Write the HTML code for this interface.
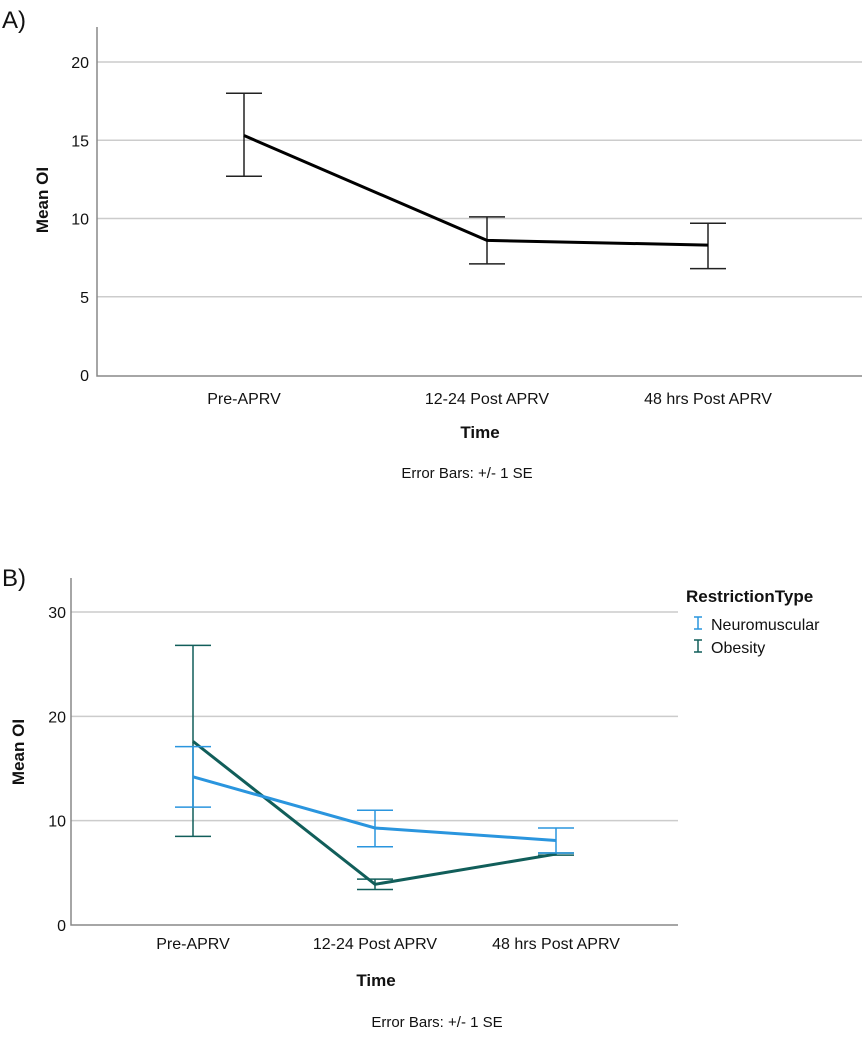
<!DOCTYPE html>
<html><head><meta charset="utf-8"><style>
body{margin:0;background:#fff;width:863px;height:1032px;overflow:hidden}
svg{font-family:"Liberation Sans",Arial,sans-serif}
</style></head><body>
<svg id="chart" width="863" height="1032" viewBox="0 0 863 1032"></svg>
<script>
const categories=["Pre-APRV","12-24 Post APRV","48 hrs Post APRV"];
const meanA=[15.3,8.6,8.3];
const upperA=[18.0,10.1,9.7];
const lowerA=[12.7,7.1,6.8];
const ticksA=[0,5,10,15,20];
const neuroMean=[14.2,9.3,8.1];
const neuroUpper=[17.1,11.0,9.3];
const neuroLower=[11.3,7.5,6.9];
const obesMean=[17.6,3.9,6.8];
const obesUpper=[26.8,4.4,6.9];
const obesLower=[8.5,3.4,6.7];
const ticksB=[0,10,20,30];

const NS="http://www.w3.org/2000/svg";
const svg=document.getElementById('chart');
function mk(tag,attrs,parent){const e=document.createElementNS(NS,tag);for(const k in attrs)e.setAttribute(k,attrs[k]);(parent||svg).appendChild(e);return e;}
function txt(s,attrs){const e=mk('text',attrs);e.textContent=s;return e;}

// Panel A
const yA=v=>375-v*(375-62)/20;
const xA=i=>[244,487,708][i];
let t=txt("A)",{x:2,y:28,"font-size":24,fill:"#111"});


ticksA.forEach(v=>{
  if(v>0){const g=mk('line',{x1:97,x2:862,y1:yA(v),y2:yA(v),stroke:"#ccc","stroke-width":1.5});
  
  }
  const l=txt(String(v),{x:89,y:yA(v)+6,"font-size":16,"text-anchor":"end",fill:"#111"});
  
  
});
let ax=mk('path',{d:"M97 27 V376 H862",fill:"none",stroke:"#888","stroke-width":1.5});


categories.forEach((c,i)=>{
  const l=txt(c,{x:xA(i),y:404,"font-size":16,"text-anchor":"middle",fill:"#111"});
  
  
  const e=mk('path',{d:`M${xA(i)-18} ${yA(upperA[i])} H${xA(i)+18} M${xA(i)} ${yA(upperA[i])} V${yA(lowerA[i])} M${xA(i)-18} ${yA(lowerA[i])} H${xA(i)+18}`,stroke:"#222","stroke-width":1.5,fill:"none"});
  
  
});
let la=mk('polyline',{points:meanA.map((v,i)=>xA(i)+","+yA(v)).join(" "),fill:"none",stroke:"#000","stroke-width":3});


t=txt("Mean OI",{transform:"translate(48,200) rotate(-90)","font-size":17,"font-weight":"bold","text-anchor":"middle",fill:"#111"});


t=txt("Time",{x:480,y:438,"font-size":17,"font-weight":"bold","text-anchor":"middle",fill:"#111"});


t=txt("Error Bars: +/- 1 SE",{x:467,y:478,"font-size":15,"text-anchor":"middle",fill:"#111"});



// Panel B
const yB=v=>925-v*(925-612)/30;
const xB=i=>[193,375,556][i];
t=txt("B)",{x:2,y:586,"font-size":24,fill:"#111"});


ticksB.forEach(v=>{
  if(v>0){const g=mk('line',{x1:71,x2:678,y1:yB(v),y2:yB(v),stroke:"#ccc","stroke-width":1.5});
  
  }
  const l=txt(String(v),{x:66,y:yB(v)+6,"font-size":16,"text-anchor":"end",fill:"#111"});
  
  
});
ax=mk('path',{d:"M71 578 V925 H678",fill:"none",stroke:"#888","stroke-width":1.5});


categories.forEach((c,i)=>{
  const l=txt(c,{x:xB(i),y:949,"font-size":16,"text-anchor":"middle",fill:"#111"});
  
  
});
function series(mean,up,lo,color,name,w){
  mean.forEach((v,i)=>{
    const e=mk('path',{d:`M${xB(i)-18} ${yB(up[i])} H${xB(i)+18} M${xB(i)} ${yB(up[i])} V${yB(lo[i])} M${xB(i)-18} ${yB(lo[i])} H${xB(i)+18}`,stroke:color,"stroke-width":1.5,fill:"none"});
    
    
  });
  const l=mk('polyline',{points:mean.map((v,i)=>xB(i)+","+yB(v)).join(" "),fill:"none",stroke:color,"stroke-width":w});
  
  
}
series(obesMean,obesUpper,obesLower,"#115e5a","obesity",3);
series(neuroMean,neuroUpper,neuroLower,"#2a95de","neuromuscular",3);
t=txt("Mean OI",{transform:"translate(24,752) rotate(-90)","font-size":17,"font-weight":"bold","text-anchor":"middle",fill:"#111"});


t=txt("Time",{x:376,y:986,"font-size":17,"font-weight":"bold","text-anchor":"middle",fill:"#111"});


t=txt("Error Bars: +/- 1 SE",{x:437,y:1027,"font-size":15,"text-anchor":"middle",fill:"#111"});


t=txt("RestrictionType",{x:686,y:602,"font-size":17,"font-weight":"bold",fill:"#111"});


[["Neuromuscular","#2a95de",630],["Obesity","#115e5a",653]].forEach(([n,c,y])=>{
  const g=mk('g',{});
  
  
  mk('path',{d:`M694 ${y-13} H702 M698 ${y-13} V${y-1} M694 ${y-1} H702`,stroke:c,"stroke-width":1.5,fill:"none"},g);
  const tt=mk('text',{x:711,y:y,"font-size":16,fill:"#111"},g);tt.textContent=n;
});
</script>
</body></html>
